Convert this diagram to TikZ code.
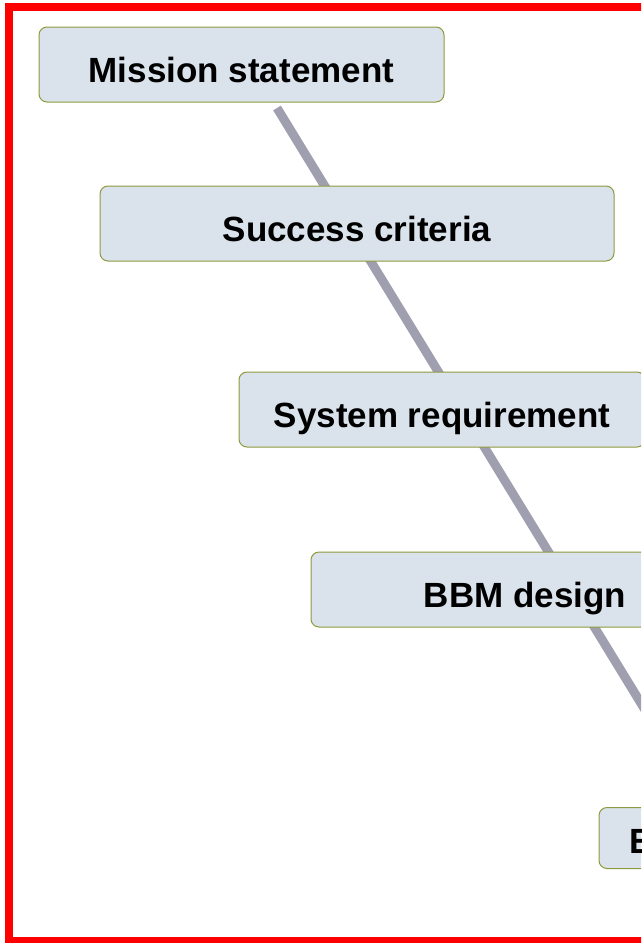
\documentclass[tikz,border=0pt]{standalone}
\usepackage{fontspec}
\setmainfont{Liberation Sans}
\definecolor{boxfill}{HTML}{DAE3EC}
\definecolor{boxedge}{HTML}{8E9A3C}
\definecolor{vline}{HTML}{A09FB0}
\definecolor{frame}{HTML}{FF0000}
\tikzset{
  stagebox/.style={draw=boxedge, line width=1pt, fill=boxfill, rounded corners=8pt,
    inner sep=0pt, text height=35pt, text depth=0pt,
    font=\fontsize{35}{40}\selectfont\bfseries},
  vpath/.style={draw=vline, line width=9pt},
  redframe/.style={draw=frame, line width=8pt}
}
\begin{document}
\begin{tikzpicture}[x=1pt,y=-1pt]
\useasboundingbox (0,0) rectangle (641,943);
\clip (0,0) rectangle (641,943);
\coordinate (vstart) at (277,108);
\coordinate (vend) at (705,808);
\draw[vpath] (vstart) -- (vend);
\node[stagebox, minimum width=405pt, minimum height=75pt] (mission) at (241.5,64.5) {Mission statement};
\node[stagebox, minimum width=514pt, minimum height=75pt] (success) at (357,223.5) {Success criteria};
\node[stagebox, minimum width=406pt, minimum height=75pt] (system) at (442,409.5) {System requirement};
\node[stagebox, minimum width=428pt, minimum height=75pt] (bbm) at (525,589.5) {BBM design};
\node[stagebox, minimum width=237pt, minimum height=61pt, text height=30pt] (em) at (717.5,838) {EM design};
\draw[redframe] (9,7) rectangle (760,941);
\end{tikzpicture}
\end{document}
